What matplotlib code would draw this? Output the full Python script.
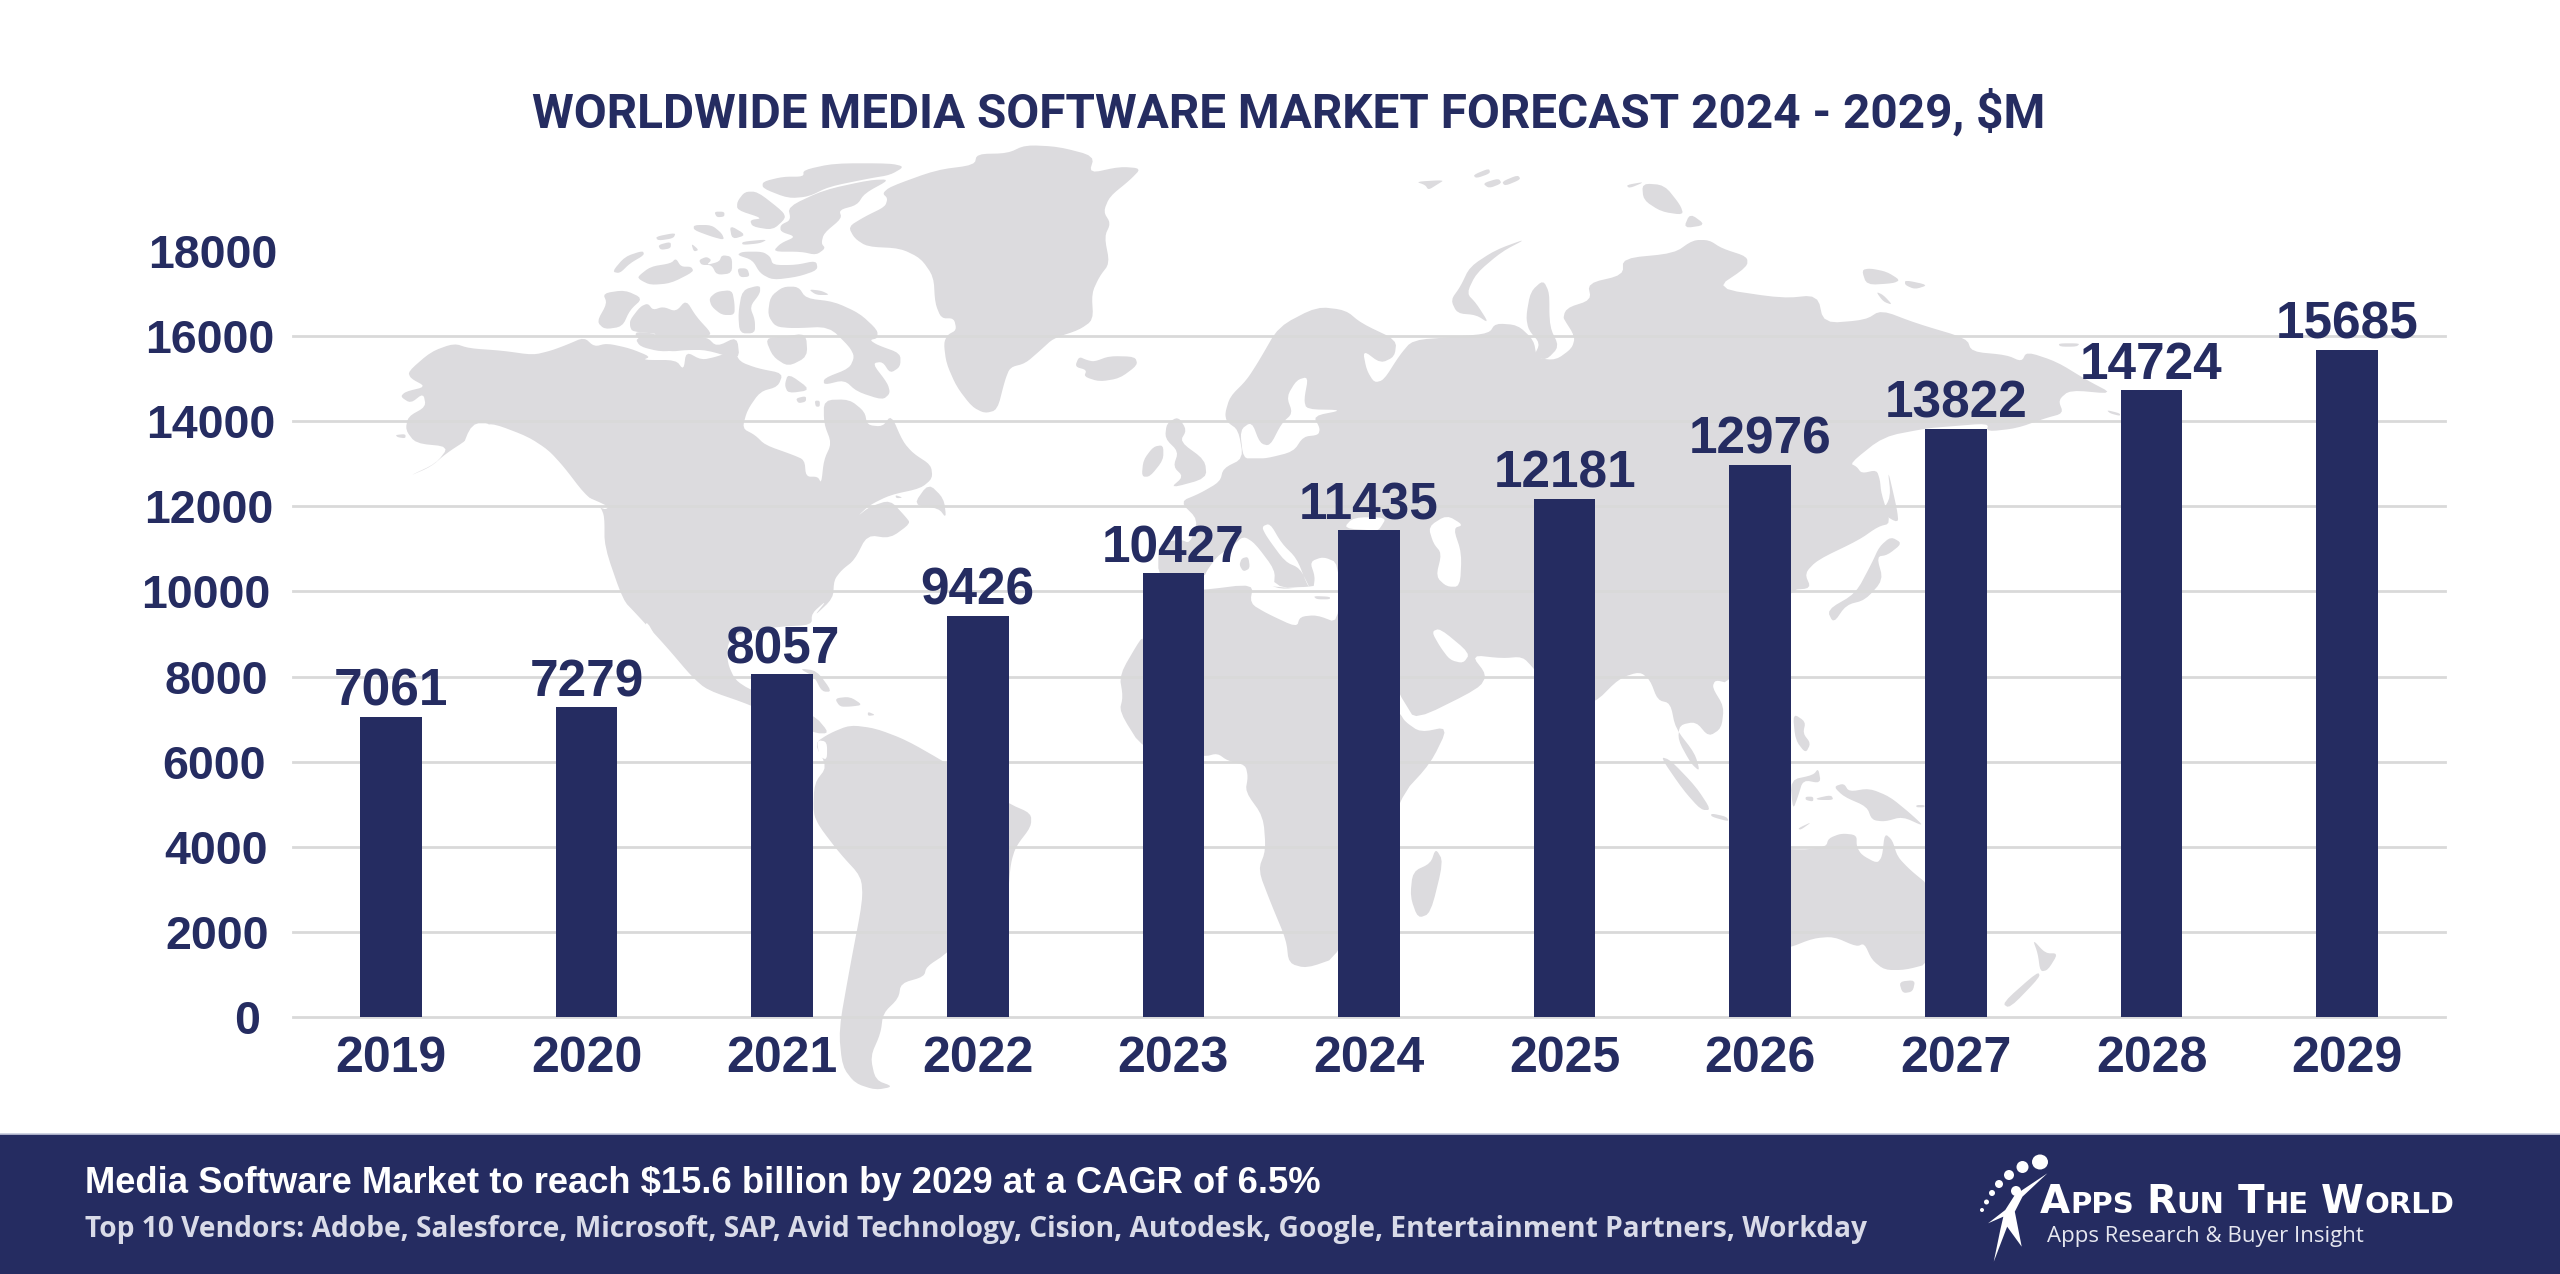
import matplotlib
matplotlib.use('Agg')
import matplotlib.pyplot as plt
from matplotlib.patches import Ellipse, Rectangle
from matplotlib.transforms import ScaledTranslation

# chart data
years = [2019, 2020, 2021, 2022, 2023, 2024, 2025, 2026, 2027, 2028, 2029]
market_size = [7061, 7279, 8057, 9426, 10427, 11435, 12181, 12976, 13822, 14724, 15685]
y_ticks = [0, 2000, 4000, 6000, 8000, 10000, 12000, 14000, 16000, 18000]

title = 'WORLDWIDE MEDIA SOFTWARE MARKET FORECAST 2024 - 2029, $M'
headline = 'Media Software Market to reach $15.6 billion by 2029 at a CAGR of 6.5%'
vendors = ('Top 10 Vendors: Adobe, Salesforce, Microsoft, SAP, Avid Technology, Cision, '
           'Autodesk, Google, Entertainment Partners, Workday')
tagline = 'Apps Research & Buyer Insight'
logo_parts = [('A', 1), ('PPS', 0), ('R', 1), ('UN', 0), ('T', 1), ('HE', 0), ('W', 1), ('ORLD', 0)]

NAVY = '#252C61'
MAP_GREY = '#DCDBDE'
GRID = '#D9D9D9'


def c5(pts):
    return [(380 + x / 1.96, 130 + y / 3) for x, y in pts]


def c6(pts):
    return [(1100 + x / 1.568, 160 + y / 3) for x, y in pts]


def c7(pts):
    return [(600 + x / 1.96, 600 + y / 3) for x, y in pts]


def c8(pts):
    return [(1400 + x / 1.96, 600 + y / 3) for x, y in pts]


def c10(pts):
    return [(1850 + x / 3, 240 + y / 3) for x, y in pts]


def c11(pts):
    return [(1100 + x / 3, 380 + y / 3) for x, y in pts]


def logo(pts):
    return [(1900 + x / 2.613, 1130 + y / 3) for x, y in pts]


def smooth(pts, rounds=2):
    # corner cutting so the hand traced outlines look less angular
    for _ in range(rounds):
        out = []
        for i, p in enumerate(pts):
            q = pts[(i + 1) % len(pts)]
            out.append((0.8 * p[0] + 0.2 * q[0], 0.8 * p[1] + 0.2 * q[1]))
            out.append((0.2 * p[0] + 0.8 * q[0], 0.2 * p[1] + 0.8 * q[1]))
        pts = out
    return pts


# background map, traced by eye
land = [
    # Greenland, Iceland
    c5([(1000, 170), (1090, 120), (1165, 105), (1170, 72), (1230, 70), (1265, 45), (1330, 50), (1400, 78), (1390, 130),
        (1450, 110), (1492, 115), (1470, 150), (1430, 200), (1418, 245), (1432, 280), (1420, 320), (1430, 400),
        (1410, 440), (1395, 490), (1398, 570), (1370, 600), (1320, 625), (1295, 660), (1265, 700), (1235, 712),
        (1225, 750), (1210, 840), (1185, 850), (1160, 830), (1130, 770), (1110, 700), (1105, 640), (1112, 615),
        (1130, 600), (1125, 565), (1100, 565), (1088, 520), (1085, 440), (1060, 385), (1020, 355), (955, 350),
        (930, 325), (918, 290), (950, 260), (990, 230), (995, 205), (985, 190)]),
    c5([(1370, 680), (1385, 690), (1400, 695), (1430, 678), (1480, 680), (1485, 705), (1450, 745), (1410, 755),
        (1380, 740), (1385, 720), (1362, 710)]),
    # Canadian arctic
    c5([(830, 120), (890, 100), (1000, 100), (1028, 110), (1000, 135), (960, 145), (880, 170), (840, 200), (800, 205),
        (750, 175), (750, 155), (790, 140), (830, 140)]),
    c5([(715, 185), (740, 185), (790, 245), (795, 265), (770, 300), (730, 290), (725, 270), (750, 265), (700, 240),
        (700, 215)]),
    c5([(800, 230), (870, 180), (960, 150), (1000, 148), (950, 190), (935, 225), (900, 240), (905, 265), (870, 310),
        (865, 340), (873, 355), (855, 375), (825, 365), (770, 365), (785, 340), (815, 320), (785, 305), (785, 285),
        (805, 270)]),
    c5([(710, 365), (750, 365), (765, 380), (770, 405), (815, 405), (855, 392), (858, 420), (820, 440), (770, 450),
        (745, 430), (730, 390), (700, 375)]),
    c5([(615, 285), (650, 285), (670, 310), (675, 330), (650, 320), (615, 300)]),
    c5([(685, 285), (718, 315), (690, 328)]),
    c5([(710, 335), (760, 328), (745, 340), (710, 345)]),
    c5([(655, 245), (675, 245), (675, 260), (660, 262)]),
    c5([(540, 320), (580, 308), (575, 325), (545, 332)]),
    c5([(545, 345), (570, 335), (570, 355), (550, 360)]),
    c5([(455, 425), (480, 380), (515, 362), (518, 375), (490, 400), (470, 430)]),
    c5([(505, 440), (530, 410), (570, 400), (580, 385), (590, 410), (610, 410), (615, 425), (570, 460), (530, 465),
        (510, 450)]),
    c5([(610, 340), (625, 360), (615, 365)]),
    c5([(625, 390), (640, 380), (650, 390), (640, 405), (665, 395), (670, 375), (690, 380), (690, 430), (660, 435),
        (650, 405), (630, 405)]),
    c5([(700, 415), (720, 415), (725, 440), (705, 442)]),
    c5([(437, 490), (480, 480), (515, 505), (490, 540), (475, 590), (440, 598), (425, 575), (445, 520)]),
    c5([(490, 570), (510, 530), (525, 520), (535, 540), (555, 530), (580, 545), (600, 510), (620, 560), (650, 610),
        (640, 620), (600, 625), (590, 660), (550, 665), (510, 650), (500, 625), (550, 612), (495, 605), (490, 590)]),
    c5([(645, 505), (660, 485), (690, 480), (695, 520), (695, 555), (670, 555), (650, 530)]),
    c5([(710, 480), (745, 465), (745, 490), (725, 530), (735, 570), (735, 610), (705, 610), (702, 550)]),
    c5([(765, 500), (790, 470), (820, 470), (835, 505), (890, 515), (940, 550), (975, 600), (975, 625), (960, 630),
        (975, 645), (1020, 670), (1020, 710), (1000, 730), (985, 695), (965, 700), (995, 760), (1000, 790), (985, 810),
        (935, 785), (910, 750), (870, 765), (870, 745), (920, 715), (930, 680), (920, 650), (880, 590), (810, 595),
        (775, 590), (760, 555)]),
    c5([(840, 478), (865, 482), (882, 495), (855, 495)]),
    c5([(800, 730), (845, 780), (800, 790), (793, 765)]),
    c5([(815, 805), (835, 798), (835, 815), (820, 820)]),
    c5([(852, 812), (862, 812), (862, 830), (854, 830)]),
    c5([(495, 605), (540, 610), (560, 640), (590, 625), (640, 620), (660, 650), (700, 620), (705, 690), (640, 660),
        (600, 660), (570, 665), (520, 650)]),
    c5([(755, 625), (790, 620), (835, 610), (838, 680), (800, 710), (770, 680)]),
    # North and Central America
    c5([(55, 725), (100, 665), (145, 640), (175, 655), (240, 662), (300, 675), (335, 662), (365, 645), (400, 622),
        (420, 650), (445, 640), (490, 655), (530, 680), (515, 690), (580, 690), (595, 720), (600, 665), (630, 690),
        (660, 680), (695, 660), (705, 695), (740, 715), (790, 730), (780, 770), (745, 785), (720, 840), (710, 895),
        (735, 915), (755, 945), (810, 975), (832, 990), (835, 1040), (858, 1040), (865, 1060), (870, 990), (885, 940),
        (870, 880), (870, 810), (920, 808), (950, 845), (955, 885), (985, 890), (1002, 855), (1025, 935), (1045, 970),
        (1080, 1005), (1083, 1045), (1060, 1075), (1000, 1095), (960, 1125), (935, 1160), (960, 1130), (1000, 1110),
        (1030, 1160), (1040, 1180), (1000, 1225), (955, 1215), (930, 1290), (905, 1320), (890, 1350), (888, 1405),
        (850, 1460)])
    + c7([(445, 0), (415, 40), (415, 75), (350, 80), (270, 100), (250, 130), (250, 190), (265, 240), (295, 270),
          (420, 345), (450, 400), (420, 400), (295, 315), (210, 270), (180, 230), (130, 140), (70, 40), (45, 0)])
    + c5([(440, 1250), (440, 1160), (432, 1130), (400, 1090), (360, 1010), (330, 960), (290, 920), (225, 882),
          (200, 885), (170, 930), (130, 970), (100, 1010), (55, 1040), (110, 1000), (135, 950), (70, 940), (50, 900),
          (55, 860), (90, 830), (85, 790), (60, 820), (40, 800), (50, 785), (90, 770), (60, 745)]),
    c5([(30, 915), (50, 912), (50, 925), (35, 922)]),
    c5([(1075, 1060), (1105, 1105), (1110, 1165), (1095, 1135), (1045, 1125)]),
    # Caribbean
    c7([(390, 205), (425, 212), (455, 275), (435, 275), (420, 230)]),
    c7([(460, 295), (490, 290), (515, 315), (490, 320), (470, 320)]),
    c7([(525, 335), (540, 345), (525, 348)]),
    # South America
    c7([(450, 400), (490, 375), (540, 385), (600, 420), (680, 490), (800, 610), (845, 640), (845, 680), (815, 740),
        (805, 790), (800, 880), (680, 1060), (640, 1100), (635, 1130), (590, 1150), (585, 1195), (555, 1240),
        (550, 1300), (530, 1370), (540, 1440), (575, 1460), (540, 1470), (500, 1450), (475, 1400), (468, 1290),
        (490, 1100), (515, 900), (512, 830), (470, 760), (430, 680), (418, 640), (420, 550), (445, 500), (420, 430)]),
    # Africa
    c11([(130, 780), (130, 640), (310, 630), (455, 612), (715, 640), (715, 800)])
    + c8([(0, 340), (10, 365), (40, 397), (95, 380), (60, 490), (0, 590)])
    + c7([(1450, 1070), (1385, 1105), (1350, 1090), (1345, 1020), (1315, 910), (1290, 810), (1305, 750), (1300, 650),
          (1265, 575), (1270, 530), (1265, 495), (1230, 482), (1210, 460), (1185, 470), (1065, 450), (1018, 335),
          (1025, 290), (1018, 225), (1060, 115)]),
    c8([(70, 745), (85, 785), (60, 940), (35, 955), (20, 890), (25, 815), (60, 790)]),
    # Eurasia
    c11([(175, 600), (175, 490), (240, 478), (270, 490), (295, 420), (240, 365), (300, 340), (360, 305), (370, 265),
         (430, 235), (415, 150), (380, 125), (375, 100), (390, 50), (440, 0)])
    + c6([(250, 600), (280, 500), (340, 440), (385, 450), (410, 490), (465, 540), (462, 590), (440, 610), (412, 570),
          (418, 630), (430, 668), (445, 660), (470, 585), (490, 540), (560, 530), (610, 520), (620, 490), (655, 495),
          (680, 540), (685, 595), (715, 600), (740, 565), (745, 530), (725, 490), (730, 445), (770, 420), (765, 370),
          (820, 345), (820, 295), (900, 280), (930, 240), (955, 240), (975, 265), (1015, 290), (1015, 320), (965, 385),
          (1070, 415), (1125, 405), (1135, 490), (1200, 480), (1225, 450), (1280, 490)])
    + c10([(350, 295), (365, 335), (470, 345), (515, 365), (530, 335), (620, 365), (710, 420), (790, 462), (660, 450),
           (625, 480), (640, 520), (585, 535), (500, 565), (410, 575), (415, 550), (290, 560), (230, 565), (100, 590),
           (0, 670), (20, 680), (35, 700), (80, 690), (90, 720)])
    + c6([(1225, 1000), (1240, 1090), (1220, 1100), (1190, 1140), (1125, 1200), (1105, 1240), (1115, 1285),
          (1082, 1290)])
    + c8([(645, 250), (618, 240), (612, 262), (635, 320), (630, 385), (605, 410), (580, 365), (548, 375), (545, 420),
          (570, 490), (588, 515), (578, 460), (540, 385), (530, 310), (505, 300), (490, 240), (470, 215), (430, 235),
          (381, 310), (320, 320), (262, 205), (240, 170), (200, 175), (140, 165), (170, 225), (155, 265), (30, 360),
          (10, 310), (0, 285)])
    + c11([(800, 720), (715, 600), (640, 620), (525, 625), (430, 470), (312, 600)]),
    # British Isles
    c11([(200, 130), (235, 110), (260, 150), (240, 185), (315, 240), (320, 295), (210, 325), (250, 290), (220, 260),
         (235, 215), (195, 175)]),
    c11([(160, 200), (190, 195), (190, 240), (150, 290), (125, 290), (130, 240)]),
    # Arctic Russia
    c6([(670, 235), (620, 270), (580, 320), (565, 380), (550, 420), (560, 460), (590, 465), (610, 490), (590, 430),
        (575, 400), (590, 340), (630, 275)]),
    c6([(668, 470), (675, 395), (695, 360), (705, 400), (705, 500), (720, 560), (700, 600), (680, 590), (690, 550),
        (672, 510)]),
    c6([(495, 65), (540, 60), (530, 72), (515, 90), (510, 75)]),
    c6([(585, 45), (610, 25), (612, 40), (590, 55)]),
    c6([(600, 70), (625, 55), (630, 70), (610, 85)]),
    c6([(630, 65), (655, 45), (660, 58), (635, 78)]),
    c6([(850, 70), (885, 75), (910, 135), (915, 165), (880, 155), (852, 120)]),
    c6([(825, 75), (855, 65), (830, 85)]),
    c6([(925, 160), (950, 195), (915, 205)]),
    c10([(35, 90), (60, 85), (110, 95), (150, 120), (130, 130), (50, 135)]),
    c10([(165, 120), (235, 135), (195, 148), (165, 135)]),
    c10([(78, 155), (100, 165), (128, 195), (100, 185)]),
    c10([(625, 310), (690, 310), (680, 320), (630, 320)]),
    c10([(770, 510), (810, 520), (810, 528), (780, 520)]),
    # Sakhalin and Japan
    c6([(1235, 925), (1250, 1050), (1252, 1090), (1225, 1060), (1240, 1010)]),
    c6([(1240, 1130), (1258, 1150), (1235, 1185), (1218, 1190), (1228, 1260), (1200, 1320), (1170, 1335), (1150, 1390),
        (1140, 1350), (1185, 1300), (1210, 1210), (1222, 1160)]),
    # South East Asia and Oceania
    c8([(510, 470), (530, 480), (580, 560), (610, 630), (590, 630), (555, 570)]),
    c8([(610, 640), (640, 650), (645, 665), (610, 650)]),
    c8([(645, 510), (700, 500), (700, 600), (645, 580)]),
    c8([(770, 340), (795, 365), (790, 400), (805, 430), (795, 460), (775, 420)]),
    c8([(765, 540), (810, 525), (820, 505), (825, 550), (790, 540), (780, 590), (770, 630)]),
    c8([(795, 590), (810, 590), (810, 605), (795, 600)]),
    c8([(815, 595), (845, 585), (850, 600), (820, 600)]),
    c8([(850, 560), (870, 550), (880, 575), (920, 565), (960, 590), (1000, 640), (1028, 680), (985, 650), (950, 665),
        (925, 660), (915, 620), (870, 590)]),
    c8([(780, 685), (808, 665), (785, 690)]),
    c8([(1012, 615), (1028, 615), (1028, 622), (1012, 622)]),
    c8([(700, 740), (790, 750), (835, 740), (840, 715), (865, 700), (895, 705), (895, 740), (905, 765), (935, 790),
        (945, 770), (950, 700), (965, 720), (975, 770), (1000, 810), (1040, 860), (1040, 1090), (990, 1110),
        (950, 1110), (925, 1080), (910, 1030), (895, 1040), (850, 1010), (810, 1015), (760, 1045), (700, 1050)]),
    c8([(978, 1145), (1010, 1140), (1005, 1175), (985, 1180)]),
    c8([(1240, 1018), (1265, 1060), (1290, 1060), (1270, 1110), (1255, 1115), (1250, 1060)]),
    c8([(1250, 1115), (1255, 1130), (1195, 1225), (1180, 1210)]),
]

# seas and gaps painted over the land
water = [
    # Baltic
    c11([(560, 50), (590, 0), (625, -10), (612, 60), (620, 88), (730, 90), (640, 108), (660, 145), (655, 165),
         (610, 170), (580, 215), (500, 235), (465, 235), (430, 235), (420, 150), (455, 125), (480, 190), (510, 198),
         (545, 130), (578, 100)]),
    # Mediterranean
    c11([(312, 625), (312, 585), (350, 530), (395, 500), (430, 468), (465, 490), (525, 570), (522, 620), (490, 605),
         (540, 628), (620, 620), (640, 628), (645, 590), (630, 545), (670, 530), (716, 550), (716, 730), (650, 705),
         (600, 710), (590, 742), (500, 700), (450, 670), (460, 612)]),
    # Adriatic
    c11([(485, 440), (510, 430), (545, 490), (590, 535), (620, 610), (630, 625), (600, 565), (555, 545), (500, 470)]),
    # Black Sea
    c11([(730, 445), (760, 412), (860, 412), (840, 445), (830, 452)]),
    # Caspian
    c11([(985, 440), (1040, 405), (1090, 435), (1060, 445), (1085, 520), (1080, 620), (1040, 620), (1008, 590),
         (1025, 520), (1000, 490)]),
    # Persian Gulf
    c11([(995, 755), (1020, 745), (1110, 820), (1090, 850), (1050, 840), (1020, 800)]),
    # Gulf of Ob
    c6([(705, 380), (725, 470), (745, 530), (735, 560), (720, 560), (705, 490)]),
    # Gulf of Alaska inlet, west coast, Baja, Hudson islands
    c5([(180, 880), (220, 880), (190, 930), (165, 975), (155, 975)]),
    c5([(390, 1090), (450, 1130), (440, 1140), (395, 1105)]),
    c5([(352, 1025), (368, 1060), (362, 1075), (352, 1050)]),
    c5([(880, 655), (900, 655), (902, 690), (890, 695)]),
    c5([(1095, 575), (1118, 575), (1118, 605), (1098, 605)]),
    c7([(90, 55), (130, 175), (120, 175), (90, 110)]),
    c7([(425, 420), (445, 425), (445, 480), (430, 470)]),
]

grey_islands = [
    c11([(425, 535), (445, 530), (450, 565), (430, 575), (418, 555)]),
    c11([(640, 648), (690, 650), (690, 658), (650, 658)]),
    c5([(1010, 1095), (1025, 1103), (1012, 1105)]),
]

logo_dots = [(2040, 1162, 16, 15), (2022.5, 1167, 12, 12), (2009, 1175, 10, 10), (1999, 1184, 8, 8),
             (1992, 1193, 6, 6), (1986.5, 1202, 5, 5), (1982, 1210, 4, 4), (2016, 1191, 10, 10)]
logo_figure = logo([(385, 130), (320, 200), (300, 245), (318, 350), (280, 290), (245, 395), (262, 300), (270, 260),
                    (230, 280), (275, 240), (300, 195)])

fig = plt.figure(figsize=(25.6, 12.74), dpi=100, facecolor='white')
renderer = fig.canvas.get_renderer()


def fit_width(text, width):
    # rescale a text so it spans the wanted pixel width
    w = text.get_window_extent(renderer).width
    text.set_fontsize(text.get_fontsize() * width / w)


# full figure axes in pixels for the map and the footer
bg = fig.add_axes([0, 0, 1, 1], zorder=0)
bg.set_xlim(0, 2560)
bg.set_ylim(1274, 0)
bg.axis('off')

for poly in land:
    xs, ys = zip(*smooth(poly))
    bg.fill(xs, ys, color=MAP_GREY, lw=0, zorder=1)
for poly in water:
    xs, ys = zip(*smooth(poly))
    bg.fill(xs, ys, color='white', lw=0, zorder=2)
for poly in grey_islands:
    xs, ys = zip(*smooth(poly))
    bg.fill(xs, ys, color=MAP_GREY, lw=0, zorder=3)

bg.add_patch(Rectangle((0, 1134), 2560, 140, facecolor=NAVY, edgecolor='none', zorder=4))
bg.plot([0, 2560], [1133.5, 1133.5], color='#C5C9DC', lw=1.2, zorder=4)

# logo
for x, y, w, h in logo_dots:
    bg.add_patch(Ellipse((x, y), w, h, facecolor='white', edgecolor='none', zorder=5))
xs, ys = zip(*logo_figure)
bg.fill(xs, ys, color='white', lw=0, zorder=5)

# the chart itself
ax = fig.add_axes([293 / 2560, 1 - 1017 / 1274, 2152 / 2560, 766 / 1274], zorder=1)
ax.patch.set_alpha(0)
x = list(range(len(years)))
ax.bar(x, market_size, width=0.315, color=NAVY, zorder=3)
ax.set_xlim(-0.5, len(years) - 0.5)
ax.set_ylim(0, 18000)
ax.set_xticks(x, [str(y) for y in years])
ax.set_yticks(y_ticks, [str(t) for t in y_ticks])
ax.grid(axis='y', color=GRID, lw=2.0, zorder=0)
for gl in ax.yaxis.get_gridlines():
    gl.set_clip_on(False)
ax.yaxis.get_gridlines()[-1].set_visible(False)
ax.set_axisbelow(True)
for s in ax.spines.values():
    s.set_visible(False)
ax.tick_params(axis='x', length=0, pad=14, labelsize=36, labelcolor=NAVY)
ax.tick_params(axis='y', length=0, pad=16.5, labelsize=33.5, labelcolor=NAVY)
for lab in ax.get_xticklabels() + ax.get_yticklabels():
    lab.set_fontfamily('Liberation Sans')
    lab.set_fontweight('bold')

# the y labels drift a little in the original
label_right = [260, 269, 268, 266, 268, 270, 273, 275, 274, 277]
for lab, right in zip(ax.get_yticklabels(), label_right):
    lab.set_transform(lab.get_transform() + ScaledTranslation((right - 270) / 100, 0, fig.dpi_scale_trans))

for xi, v in zip(x, market_size):
    ax.annotate(str(v), (xi, v), xytext=(0, 8), textcoords='offset points', ha='center', va='baseline',
                fontsize=37, fontweight='bold', family='Liberation Sans', color=NAVY, zorder=4)

# title and footer text
t = fig.text(532 / 2560, 1 - 128 / 1274, title, fontsize=34, fontweight='bold', family='Roboto',
             color=NAVY, va='baseline')
fit_width(t, 1517)
t = fig.text(85 / 2560, 1 - 1193 / 1274, headline, fontsize=26, fontweight='bold', family='Liberation Sans',
             color='white', va='baseline')
fit_width(t, 1237)
t = fig.text(85 / 2560, 1 - 1237 / 1274, vendors, fontsize=22, fontweight='bold', family='Open Sans',
             color='#D9DBE8', va='baseline')
fit_width(t, 1778)

# small caps logo wordmark, spaced out to its width
pieces = []
for s, big in logo_parts:
    pieces.append(fig.text(0, 1 - 1213 / 1274, s, fontsize=28 if big else 21, fontweight='bold',
                           family='DejaVu Sans', color='white', va='baseline'))
widths = [p.get_window_extent(renderer).width for p in pieces]
word_gap = (414 - sum(widths)) / 3
xpos = 2040
for i, (p, w) in enumerate(zip(pieces, widths)):
    p.set_x(xpos / 2560)
    xpos += w
    if i % 2 == 1:
        xpos += word_gap

t = fig.text(2047 / 2560, 1 - 1242 / 1274, tagline, fontsize=18, family='Open Sans', color='#E6E7F0', va='baseline')
fit_width(t, 317)

fig.savefig('out.png', dpi=100)
